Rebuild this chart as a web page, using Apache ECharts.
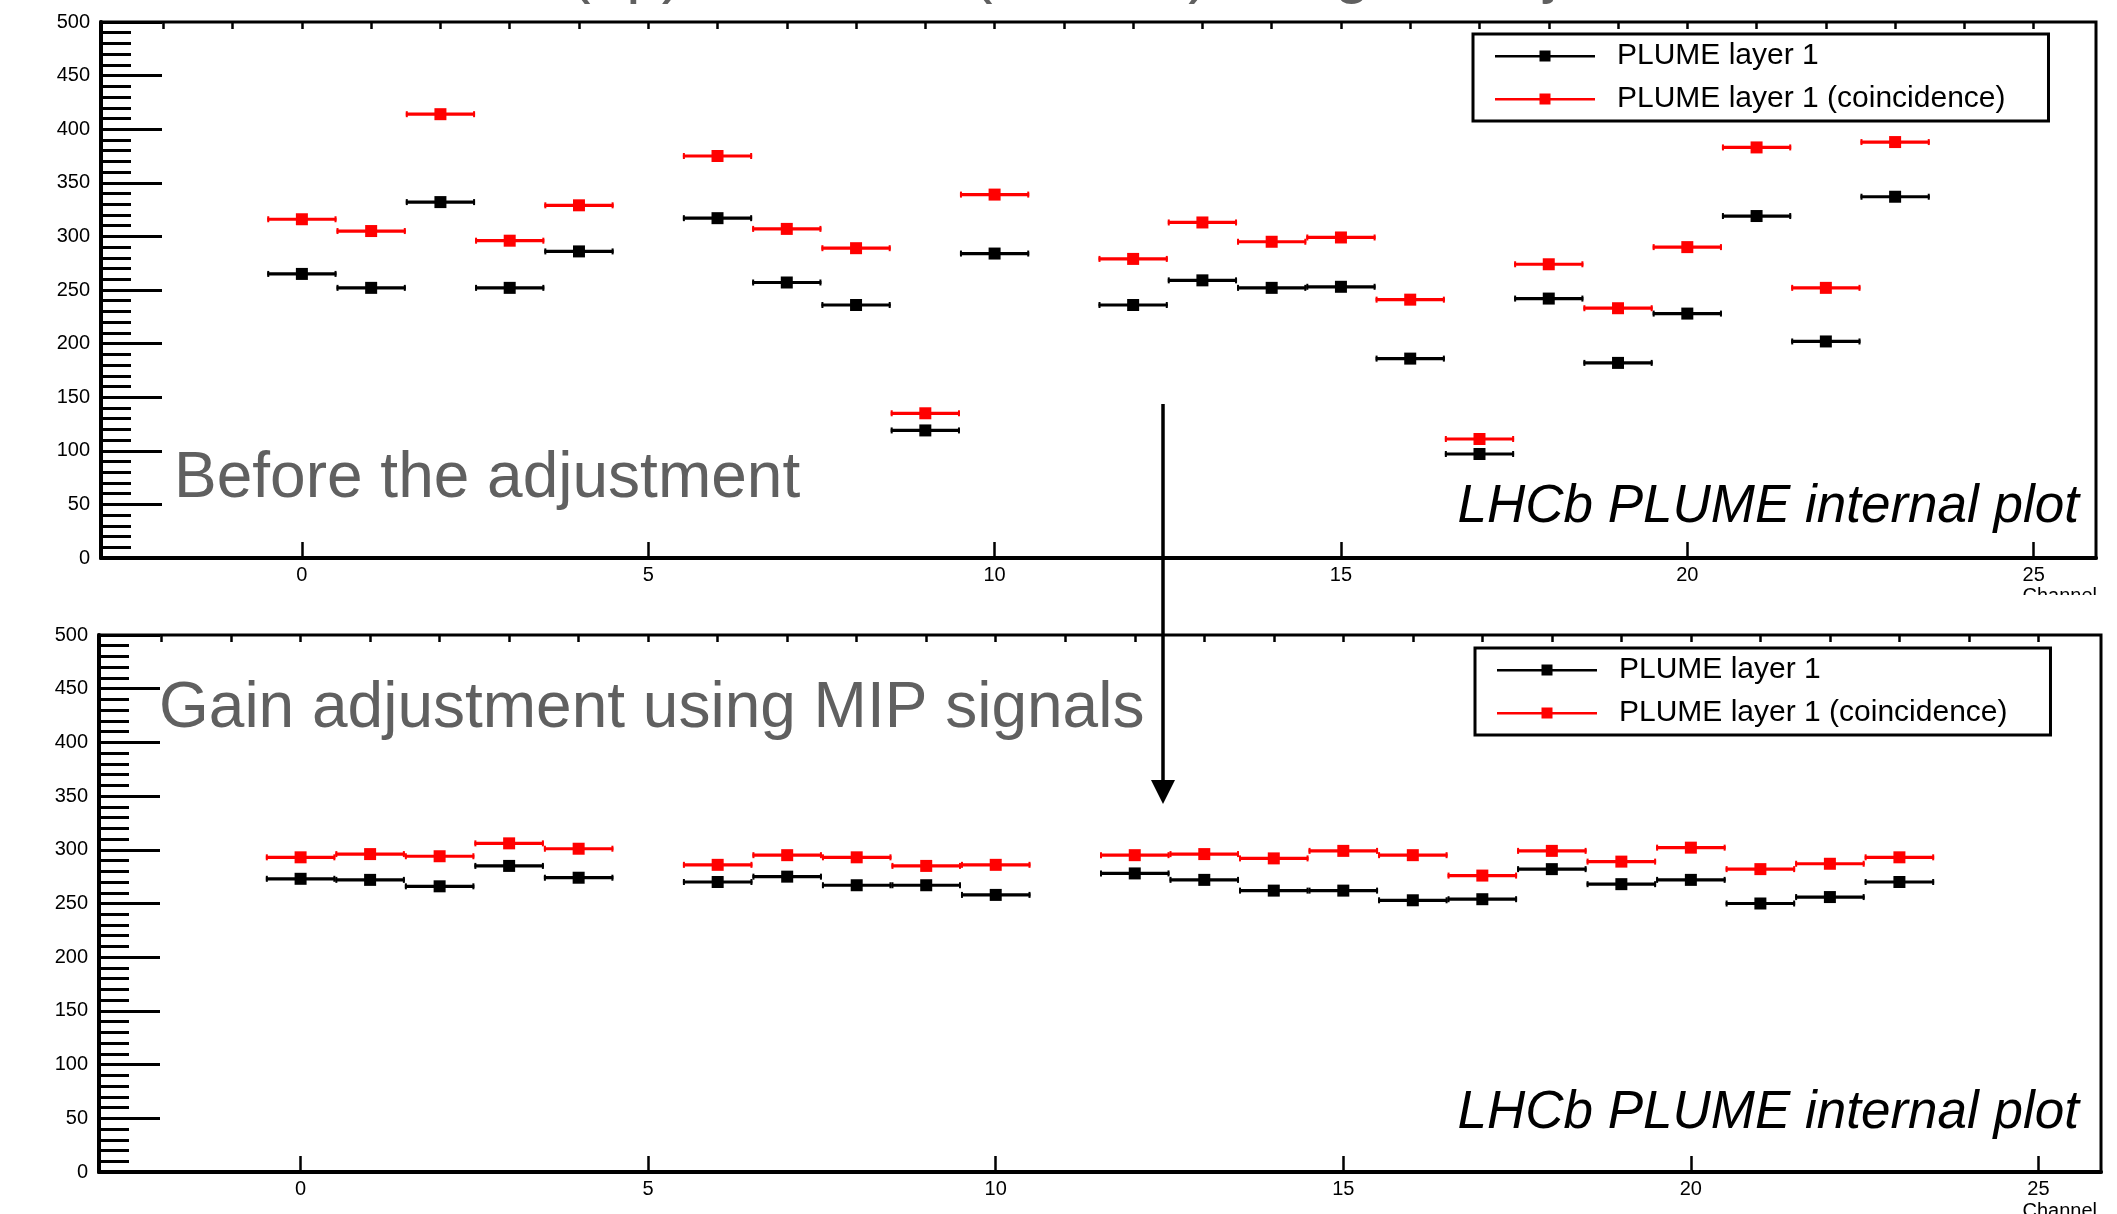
<!DOCTYPE html>
<html>
<head>
<meta charset="utf-8">
<script src="https://cdn.jsdelivr.net/npm/echarts@6/dist/echarts.min.js"></script>
<style>
html,body{margin:0;padding:0;background:#fff;}
#chart{width:2117px;height:1214px;}
</style>
</head>
<body>
<div id="chart"></div>
<script>
// ---- data ----
const channels = [0,1,2,3,4,6,7,8,9,10,12,13,14,15,16,17,18,19,20,21,22,23];
const beforeLayer1 = [265,252,332,252,286,317,257,236,119,284,236,259,252,253,186,97,242,182,228,319,202,337];
const beforeCoinc  = [316,305,414,296,329,375,307,289,135,339,279,313,295,299,241,111,274,233,290,383,252,388];
const afterLayer1  = [273,272,266,285,274,270,275,267,267,258,278,272,262,262,253,254,282,268,272,250,256,270];
const afterCoinc   = [293,296,294,306,301,286,295,293,285,286,295,296,292,299,295,276,299,289,302,282,287,293];
const majorXTicks = [0,5,10,15,20,25];
const minorXTicks = [-2,-1,0,1,2,3,4,5,6,7,8,9,10,11,12,13,14,15,16,17,18,19,20,21,22,23,24,25];
const seriesNames = ['PLUME layer 1','PLUME layer 1 (coincidence)'];
const colors = ['#000000','#ff0000'];

const FONT = '"Liberation Sans", Arial, Helvetica, sans-serif';
const GREY = '#606060';

function pts(vals){ return channels.map((c,i)=>[c, vals[i]]); }

function errRender(params, api){
  const x = api.value(0), y = api.value(1);
  const p1 = api.coord([x-0.5, y]);
  const p2 = api.coord([x+0.5, y]);
  const col = api.visual('color');
  return {type:'group', children:[
    {type:'line', shape:{x1:p1[0],y1:p1[1],x2:p2[0],y2:p2[1]}, style:{stroke:col, lineWidth:3.2}},
    {type:'line', shape:{x1:p1[0]+1,y1:p1[1]-3,x2:p1[0]+1,y2:p1[1]+3}, style:{stroke:col, lineWidth:2}},
    {type:'line', shape:{x1:p2[0]-1,y1:p2[1]-3,x2:p2[0]-1,y2:p2[1]+3}, style:{stroke:col, lineWidth:2}}
  ]};
}

function xMajor(gi){
  return {type:'value', gridIndex:gi, min:-2.9, max:25.9,
    axisLine:{show:true, onZero:false, lineStyle:{color:'#000', width:4}},
    axisTick:{show:true, inside:true, length:16, customValues:majorXTicks, lineStyle:{color:'#000', width:2.5}},
    axisLabel:{show:true, customValues:majorXTicks, margin:7, color:'#000', fontSize:20, fontFamily:FONT},
    splitLine:{show:false}};
}
function xMinor(gi){
  return {type:'value', gridIndex:gi, min:-2.9, max:25.9,
    axisLine:{show:false, onZero:false},
    axisTick:{show:true, inside:true, length:7, customValues:minorXTicks, lineStyle:{color:'#000', width:2.5}},
    axisLabel:{show:false},
    splitLine:{show:false}};
}
function yAxis(gi){
  return {type:'value', gridIndex:gi, min:0, max:500, interval:50,
    axisLine:{show:true, onZero:false, lineStyle:{color:'#000', width:4}},
    axisTick:{show:true, inside:true, length:61, lineStyle:{color:'#000', width:3}},
    minorTick:{show:true, splitNumber:5, length:30, lineStyle:{color:'#000', width:3}},
    axisLabel:{show:true, margin:11, color:'#000', fontSize:20, fontFamily:FONT},
    splitLine:{show:false}, minorSplitLine:{show:false}};
}

const panels = [[beforeLayer1, beforeCoinc],[afterLayer1, afterCoinc]];
const series = [];
panels.forEach((vals, gi)=>{
  vals.forEach((v, si)=>{
    series.push({type:'custom', name:seriesNames[si], xAxisIndex:gi*2, yAxisIndex:gi,
      renderItem:errRender, encode:{x:0,y:1}, data:pts(v), itemStyle:{color:colors[si]}, z:2, silent:true});
  });
  vals.forEach((v, si)=>{
    series.push({type:'scatter', name:seriesNames[si], xAxisIndex:gi*2, yAxisIndex:gi,
      symbol:'rect', symbolSize:12, data:pts(v), itemStyle:{color:colors[si], opacity:1}, z:3});
  });
});

const legendIcon = 'path://M0,5L100,5L100,7.5L0,7.5ZM44.5,0.5L55.5,0.5L55.5,11.5L44.5,11.5Z';
function legend(top, left){
  return {orient:'vertical', left:left, top:top, itemWidth:100, itemHeight:12, itemGap:13,
    padding:[7,43,7,22], borderColor:'#000', borderWidth:3, backgroundColor:'#fff',
    textStyle:{fontSize:30, lineHeight:30, color:'#000', fontFamily:FONT, padding:[0,0,0,17]},
    data:seriesNames.map(n=>({name:n, icon:legendIcon}))};
}

const option = {
  animation:false,
  backgroundColor:'#fff',
  grid:[
    {left:101, top:22, width:1995, height:536, show:true, borderColor:'#000', borderWidth:3, outerBoundsMode:'none', containLabel:false},
    {left:99, top:635, width:2002, height:537, show:true, borderColor:'#000', borderWidth:3, outerBoundsMode:'none', containLabel:false}
  ],
  xAxis:[xMajor(0), xMinor(0), xMajor(1), xMinor(1)],
  yAxis:[yAxis(0), yAxis(1)],
  legend:[legend(34,1473), legend(648,1475)],
  series:series,
  graphic:[
    {type:'text', z:100, style:{text:'Before (up) and after (bottom) the gain adjustment', x:363, y:-27, fill:GREY, font:'64px '+FONT, textVerticalAlign:'middle', textAlign:'left'}},
    {type:'text', z:100, style:{text:'Before the adjustment', x:174, y:479, fill:GREY, font:'64px '+FONT, textVerticalAlign:'middle', textAlign:'left'}},
    {type:'text', z:100, style:{text:'Gain adjustment using MIP signals', x:159, y:709, fill:GREY, font:'64px '+FONT, textVerticalAlign:'middle', textAlign:'left'}},
    {type:'text', z:100, style:{text:'LHCb PLUME internal plot', x:2079, y:507, fill:'#000', font:'italic 53px '+FONT, textVerticalAlign:'middle', textAlign:'right'}},
    {type:'text', z:100, style:{text:'LHCb PLUME internal plot', x:2079, y:1113, fill:'#000', font:'italic 53px '+FONT, textVerticalAlign:'middle', textAlign:'right'}},
    {type:'text', z:100, style:{text:'Channel', x:2097, y:596, fill:'#000', font:'20px '+FONT, textVerticalAlign:'middle', textAlign:'right'}},
    {type:'rect', z:101, shape:{x:1990, y:595, width:127, height:37}, style:{fill:'#fff'}},
    {type:'text', z:100, style:{text:'Channel', x:2097, y:1211, fill:'#000', font:'20px '+FONT, textVerticalAlign:'middle', textAlign:'right'}},
    {type:'line', z:120, shape:{x1:1163, y1:404, x2:1163, y2:784}, style:{stroke:'#000', lineWidth:3.5}},
    {type:'polygon', z:120, shape:{points:[[1151,780],[1175,780],[1163,804]]}, style:{fill:'#000'}}
  ]
};

const chart = echarts.init(document.getElementById('chart'), null, {renderer:'canvas'});
chart.setOption(option);
</script>
</body>
</html>
